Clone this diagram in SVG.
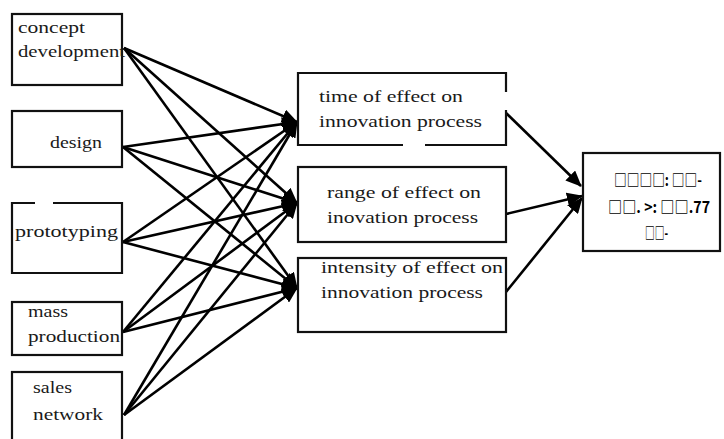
<svg xmlns="http://www.w3.org/2000/svg" width="724" height="439" viewBox="0 0 724 439">
<style>
.box{fill:#fff;stroke:#111;stroke-width:2.2}
.edge{fill:none;stroke:#000;stroke-width:2.6}
</style>
<defs>
<marker id="ah" markerUnits="userSpaceOnUse" markerWidth="16" markerHeight="14" refX="15" refY="7" orient="auto">
<path d="M0,0 L16,7 L0,14 z" fill="#000"/>
</marker>
</defs>
<rect width="724" height="439" fill="#fff"/>
<g id="connectors">
<line class="edge" x1="124" y1="48" x2="297" y2="122" marker-end="url(#ah)"/>
<line class="edge" x1="124" y1="48" x2="297" y2="203" marker-end="url(#ah)"/>
<line class="edge" x1="124" y1="48" x2="297" y2="288" marker-end="url(#ah)"/>
<line class="edge" x1="123" y1="147" x2="297" y2="122" marker-end="url(#ah)"/>
<line class="edge" x1="123" y1="147" x2="297" y2="203" marker-end="url(#ah)"/>
<line class="edge" x1="123" y1="147" x2="297" y2="288" marker-end="url(#ah)"/>
<line class="edge" x1="123" y1="242" x2="297" y2="122" marker-end="url(#ah)"/>
<line class="edge" x1="123" y1="242" x2="297" y2="203" marker-end="url(#ah)"/>
<line class="edge" x1="123" y1="242" x2="297" y2="288" marker-end="url(#ah)"/>
<line class="edge" x1="123" y1="332" x2="297" y2="122" marker-end="url(#ah)"/>
<line class="edge" x1="123" y1="332" x2="297" y2="203" marker-end="url(#ah)"/>
<line class="edge" x1="123" y1="332" x2="297" y2="288" marker-end="url(#ah)"/>
<line class="edge" x1="124" y1="415" x2="297" y2="122" marker-end="url(#ah)"/>
<line class="edge" x1="124" y1="415" x2="297" y2="203" marker-end="url(#ah)"/>
<line class="edge" x1="124" y1="415" x2="297" y2="288" marker-end="url(#ah)"/>
<line class="edge" x1="505" y1="112" x2="581" y2="186" marker-end="url(#ah)"/>
<line class="edge" x1="506" y1="214" x2="582" y2="196" marker-end="url(#ah)"/>
<line class="edge" x1="506" y1="292" x2="582" y2="198" marker-end="url(#ah)"/>
</g>
<g font-family="'Liberation Serif', 'Times New Roman', serif" font-size="17" fill="#1a1a1a">
<g id="concept">
<rect class="box" x="12" y="14" width="110" height="71"/>
<text x="18" y="33" textLength="67" lengthAdjust="spacingAndGlyphs">concept</text>
<text x="18" y="57" textLength="107" lengthAdjust="spacingAndGlyphs">development</text>
</g>
<g id="design">
<rect class="box" x="12" y="111" width="110" height="56"/>
<text x="50" y="148" textLength="52" lengthAdjust="spacingAndGlyphs">design</text>
</g>
<g id="prototyping">
<path class="box" d="M35,203 L12,203 L12,273 L122,273 L122,203 L53,203"/>
<text x="15" y="237" textLength="103" lengthAdjust="spacingAndGlyphs">prototyping</text>
</g>
<g id="mass">
<rect class="box" x="12" y="302" width="110" height="53"/>
<text x="28" y="317" textLength="40" lengthAdjust="spacingAndGlyphs">mass</text>
<text x="28" y="342" textLength="92" lengthAdjust="spacingAndGlyphs">production</text>
</g>
<g id="sales">
<rect class="box" x="12" y="372" width="110" height="80"/>
<text x="33" y="393" textLength="39" lengthAdjust="spacingAndGlyphs">sales</text>
<text x="33" y="420" textLength="70" lengthAdjust="spacingAndGlyphs">network</text>
</g>
<g id="time">
<path class="box" d="M506,92 L506,73 L298,73 L298,145 L403,145 M425,145 L506,145 L506,110"/>
<text x="319" y="102" textLength="144" lengthAdjust="spacingAndGlyphs">time of effect on</text>
<text x="319" y="127" textLength="163" lengthAdjust="spacingAndGlyphs">innovation process</text>
</g>
<g id="range">
<rect class="box" x="298" y="167" width="208" height="75"/>
<text x="327" y="198" textLength="154" lengthAdjust="spacingAndGlyphs">range of effect on</text>
<text x="327" y="223" textLength="151" lengthAdjust="spacingAndGlyphs">inovation process</text>
</g>
<g id="intensity">
<rect class="box" x="298" y="258" width="208" height="74"/>
<text x="321" y="273" textLength="182" lengthAdjust="spacingAndGlyphs">intensity of effect on</text>
<text x="321" y="298" textLength="162" lengthAdjust="spacingAndGlyphs">innovation process</text>
</g>
</g>
<g id="result" font-family="'Noto Sans CJK SC', 'DejaVu Sans', sans-serif" font-size="16" font-weight="bold" fill="#000">
<rect class="box" x="583" y="153" width="137" height="98"/>
<text x="614" y="186" textLength="88" lengthAdjust="spacingAndGlyphs">□□□□: □□-</text>
<text x="608" y="213" textLength="102" lengthAdjust="spacingAndGlyphs">□□. &gt;: □□.77</text>
<text x="645" y="239" textLength="23" lengthAdjust="spacingAndGlyphs">□□-</text>
</g>
</svg>
